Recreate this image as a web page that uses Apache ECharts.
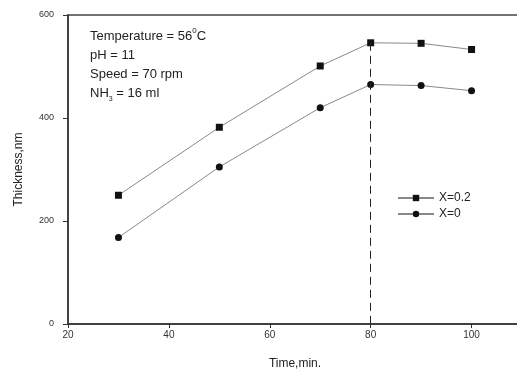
<!DOCTYPE html>
<html>
<head>
<meta charset="utf-8">
<script src="https://cdn.jsdelivr.net/npm/echarts@6/dist/echarts.min.js"></script>
<style>
  html, body { margin: 0; padding: 0; background: #fff; }
  #chart { width: 517px; height: 376px; }
</style>
</head>
<body>
<div id="chart"></div>
<script>
// time, min
const times = [30, 50, 70, 80, 90, 100];
// thickness, nm
const thickX02 = [250, 382, 501, 546, 545, 533];
const thickX0 = [168, 305, 420, 465, 463, 453];
const xTicks = [20, 40, 60, 80, 100];
const yTicks = [0, 200, 400, 600];

const myChart = echarts.init(document.getElementById('chart'));
const font = 'Liberation Sans, Arial, sans-serif';
const toPairs = (ys) => times.map((t, i) => [t, ys[i]]);

myChart.setOption({
  animation: false,
  textStyle: { fontFamily: font },
  grid: {
    left: 68,
    top: 15,
    right: -5,
    bottom: 52,
    outerBoundsMode: 'none',
    containLabel: false,
    show: true,
    borderColor: '#444',
    borderWidth: 1.5,
  },
  legend: {
    orient: 'vertical',
    left: 392,
    top: 187,
    itemWidth: 36,
    itemHeight: 8,
    itemGap: 4,
    textStyle: { fontSize: 12, color: '#222', fontFamily: font },
    data: ['X=0.2', 'X=0'],
  },
  xAxis: {
    type: 'value',
    min: 20,
    max: 110,
    interval: 20,
    splitLine: { show: false },
    axisLine: { lineStyle: { color: '#333', width: 1.5 } },
    axisTick: { length: 4, lineStyle: { color: '#333' } },
    axisLabel: {
      color: '#333',
      fontSize: 10,
      margin: 6,
      formatter: (v) => (xTicks.includes(v) ? String(v) : ''),
    },
    name: 'Time,min.',
    nameLocation: 'middle',
    nameGap: 34,
    nameTextStyle: { fontSize: 12, color: '#222' },
  },
  yAxis: {
    type: 'value',
    min: 0,
    max: 600,
    interval: 200,
    splitLine: { show: false },
    axisLine: { lineStyle: { color: '#333', width: 1.5 } },
    axisTick: { length: 5, lineStyle: { color: '#333' } },
    axisLabel: {
      color: '#333',
      fontSize: 9,
      margin: 14,
      formatter: (v) => (yTicks.includes(v) ? String(v) : ''),
    },
    name: 'Thickness,nm',
    nameLocation: 'middle',
    nameGap: 43,
    nameTextStyle: { fontSize: 12, color: '#222' },
  },
  graphic: [
    {
      type: 'text',
      left: 90,
      top: 27,
      style: {
        text: 'Temperature = 56{sup|0}C\npH = 11\nSpeed = 70 rpm\nNH{sub|3} = 16 ml',
        fontSize: 13,
        lineHeight: 19,
        fill: '#222',
        fontFamily: font,
        rich: {
          sup: { fontSize: 8, verticalAlign: 'top', padding: [0, 0, 6, 0], fill: '#222' },
          sub: { fontSize: 7, verticalAlign: 'bottom', padding: [6, 0, 0, 0], fill: '#222' },
        },
      },
    },
  ],
  series: [
    {
      name: 'X=0.2',
      type: 'line',
      data: toPairs(thickX02),
      symbol: 'rect',
      symbolSize: 7,
      itemStyle: { color: '#111' },
      lineStyle: { color: '#888', width: 1 },
      markLine: {
        silent: true,
        symbol: 'none',
        label: { show: false },
        lineStyle: { color: '#222', type: [8, 5], width: 1 },
        data: [[
          { coord: [times[3], thickX02[3]] },
          { coord: [times[3], 0] },
        ]],
      },
    },
    {
      name: 'X=0',
      type: 'line',
      data: toPairs(thickX0),
      symbol: 'circle',
      symbolSize: 7,
      itemStyle: { color: '#111' },
      lineStyle: { color: '#888', width: 1 },
    },
  ],
});
</script>
</body>
</html>
